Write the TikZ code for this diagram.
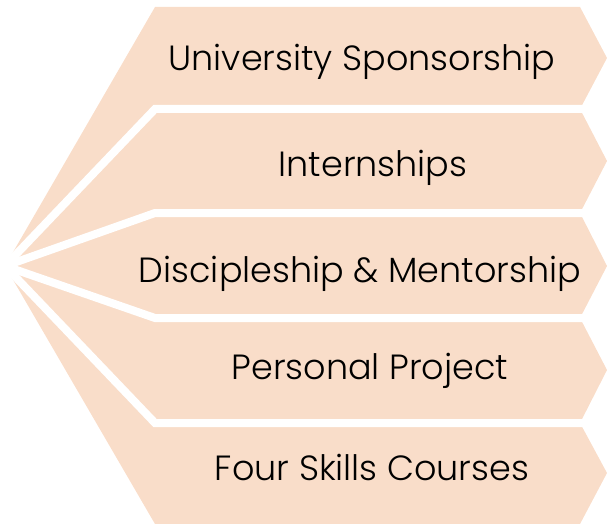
\documentclass[tikz,border=0pt]{standalone}
\usepackage{fontspec}
\setmainfont{Poppins}[UprightFont=* Light]
\usepackage{tikz}
\usetikzlibrary{positioning}
\definecolor{bandpeach}{RGB}{249,221,201}

\tikzset{
  band/.style={fill=bandpeach, draw=none},
  gap/.style={draw=white, line width=8pt, line join=miter},
  label/.style={font=\fontsize{35}{42}\selectfont, text=black, anchor=base}
}

\begin{document}
\begin{tikzpicture}[x=1pt, y=-1pt]
\useasboundingbox (0,0) rectangle (607,524);
\coordinate (apex) at (5,266);

% the five bands
\fill[band] (apex) -- (155,7) -- (580,7) -- (607,58) -- (580,109) -- (155,109) -- cycle;
\fill[band] (apex) -- (155,109) -- (580,109) -- (607,161) -- (580,213) -- (155,213) -- cycle;
\fill[band] (apex) -- (155,213) -- (580,213) -- (607,266) -- (580,318) -- (155,318) -- cycle;
\fill[band] (apex) -- (155,318) -- (580,318) -- (607,370) -- (580,423) -- (155,423) -- cycle;
\fill[band] (apex) -- (155,423) -- (580,423) -- (607,473) -- (580,524) -- (155,524) -- cycle;

% white cuts between them
\draw[gap] (apex) -- (155,109) -- (607,109);
\draw[gap] (apex) -- (155,213) -- (607,213);
\draw[gap] (apex) -- (155,318) -- (607,318);
\draw[gap] (apex) -- (155,423) -- (607,423);

\node[label] (sponsor) at (362,71) {University Sponsorship};
\node[label] (intern) at (373,176) {Internships};
\node[label] (mentor) at (360,282) {Discipleship \& Mentorship};
\node[label] (project) at (370,379) {Personal Project};
\node[label] (skills) at (372,480) {Four Skills Courses};
\end{tikzpicture}
\end{document}
